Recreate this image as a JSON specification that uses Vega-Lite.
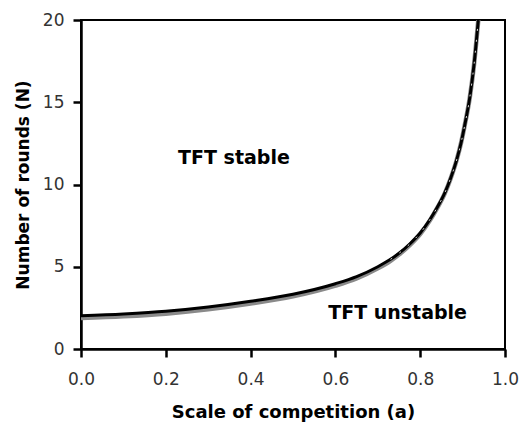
{
  "$schema": "https://vega.github.io/schema/vega-lite/v6.json",
  "width": 424,
  "height": 329,
  "autosize": "none",
  "padding": {"left": 81, "top": 20, "right": 17, "bottom": 80},
  "background": "white",
  "config": {
    "view": {"stroke": "black", "strokeWidth": 2},
    "font": "DejaVu Sans"
  },
  "datasets": {
    "curve": [
      {"a": 0.0, "N": 2.02, "G": 1.88},
      {"a": 0.1, "N": 2.13, "G": 1.99},
      {"a": 0.2, "N": 2.29, "G": 2.15},
      {"a": 0.3, "N": 2.55, "G": 2.41},
      {"a": 0.4, "N": 2.9, "G": 2.76},
      {"a": 0.5, "N": 3.33, "G": 3.2},
      {"a": 0.6, "N": 3.97, "G": 3.85},
      {"a": 0.65, "N": 4.4, "G": 4.29},
      {"a": 0.7, "N": 5.0, "G": 4.9},
      {"a": 0.73, "N": 5.45, "G": 5.36},
      {"a": 0.75, "N": 5.82, "G": 5.74},
      {"a": 0.776, "N": 6.4, "G": 6.33},
      {"a": 0.8, "N": 7.05, "G": 6.99},
      {"a": 0.823, "N": 7.87, "G": 7.82},
      {"a": 0.84, "N": 8.6, "G": 8.56},
      {"a": 0.858, "N": 9.49, "G": 9.46},
      {"a": 0.872, "N": 10.4, "G": 10.38},
      {"a": 0.886, "N": 11.5, "G": 11.49},
      {"a": 0.897, "N": 12.6, "G": 12.6},
      {"a": 0.905, "N": 13.6, "G": 13.6},
      {"a": 0.917, "N": 15.3, "G": 15.3},
      {"a": 0.927, "N": 17.3, "G": 17.3},
      {"a": 0.937, "N": 20.0, "G": 20.0}
    ],
    "labels": [
      {"a": 0.229, "N": 11.6, "label": "TFT stable"},
      {"a": 0.583, "N": 2.2, "label": "TFT unstable"}
    ]
  },
  "layer": [
    {
      "data": {"name": "curve"},
      "mark": {"type": "line", "color": "#8a8a8a", "strokeWidth": 4.5, "clip": true, "interpolate": "monotone"},
      "encoding": {
        "x": {
          "field": "a", "type": "quantitative",
          "scale": {"domain": [0, 1], "nice": false},
          "axis": {
            "title": "Scale of competition (a)",
            "values": [0, 0.2, 0.4, 0.6, 0.8, 1.0],
            "format": ".1f",
            "grid": false,
            "domainColor": "black", "domainWidth": 2.5,
            "tickColor": "black", "tickWidth": 2.5, "tickSize": 8,
            "labelFontSize": 17, "labelColor": "#333", "labelPadding": 14,
            "labelFont": "DejaVu Sans", "labelFlush": false,
            "titleFont": "DejaVu Sans", "titleFontSize": 18, "titleFontWeight": "bold",
            "titleColor": "black", "titlePadding": 16
          }
        },
        "y": {
          "field": "G", "type": "quantitative",
          "scale": {"domain": [0, 20], "nice": false},
          "axis": {
            "title": "Number of rounds (N)",
            "values": [0, 5, 10, 15, 20],
            "grid": false,
            "domainColor": "black", "domainWidth": 2.5,
            "tickColor": "black", "tickWidth": 2.5, "tickSize": 8,
            "labelFontSize": 17, "labelColor": "#333", "labelPadding": 9,
            "labelFont": "DejaVu Sans", "labelFlush": false,
            "titleFont": "DejaVu Sans", "titleFontSize": 17, "titleFontWeight": "bold",
            "titleColor": "black", "titlePadding": 10
          }
        }
      }
    },
    {
      "data": {"name": "curve"},
      "mark": {"type": "line", "color": "black", "strokeWidth": 3, "clip": true, "interpolate": "monotone"},
      "encoding": {
        "x": {"field": "a", "type": "quantitative"},
        "y": {"field": "N", "type": "quantitative"}
      }
    },
    {
      "data": {"name": "curve"},
      "transform": [{"filter": "datum.a >= 0.72"}],
      "mark": {"type": "line", "color": "#dddddd", "strokeWidth": 1, "strokeDash": [2, 9], "clip": true, "interpolate": "monotone"},
      "encoding": {
        "x": {"field": "a", "type": "quantitative"},
        "y": {"field": "N", "type": "quantitative"}
      }
    },
    {
      "data": {"name": "labels"},
      "mark": {"type": "text", "align": "left", "baseline": "middle", "fontSize": 19, "fontWeight": "bold", "font": "DejaVu Sans", "color": "black"},
      "encoding": {
        "x": {"field": "a", "type": "quantitative"},
        "y": {"field": "N", "type": "quantitative"},
        "text": {"field": "label"}
      }
    }
  ]
}
